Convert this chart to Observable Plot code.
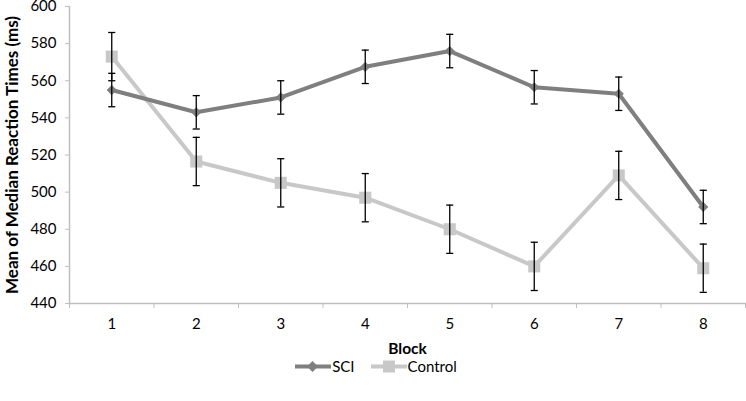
<!DOCTYPE html>
<html>
<head>
<meta charset="utf-8">
<script src="https://cdn.jsdelivr.net/npm/d3@7"></script>
<script src="https://cdn.jsdelivr.net/npm/@observablehq/plot@0.6"></script>
<style>
  html, body { margin: 0; padding: 0; background: #fff; }
  #chart { width: 746px; font-family: Lato, "Open Sans", sans-serif; }
  #chart svg text { font-family: Lato, "Open Sans", sans-serif; }
  [aria-label="x-axis label"] text { font-weight: bold; }
  [aria-label="y-axis label"] text { font-weight: bold; }
  .legend { display: flex; justify-content: center; align-items: center; height: 22px; font-size: 15px; color: #000; margin-left: 6px; }
  .legend .item { display: flex; align-items: center; margin: 0 8px; }
  .legend svg { margin-right: 1px; }
</style>
</head>
<body>
<div id="chart"></div>
<script>
const blocks = [1, 2, 3, 4, 5, 6, 7, 8];
const sciMeans = [555, 543, 551, 567.5, 576, 556.5, 553, 492];
const sciErr = [9, 9, 9, 9, 9, 9, 9, 9];
const controlMeans = [573, 516.5, 505, 497, 480, 460, 509, 459];
const controlErr = [13, 13, 13, 13, 13, 13, 13, 13];
const yTicks = [440, 460, 480, 500, 520, 540, 560, 580, 600];
const seriesNames = ["SCI", "Control"];
const colors = {SCI: "#7f7f7f", Control: "#c8c8c8"};

const data = [];
blocks.forEach((b, i) => {
  data.push({block: b, series: "SCI", mean: sciMeans[i], err: sciErr[i]});
  data.push({block: b, series: "Control", mean: controlMeans[i], err: controlErr[i]});
});
const sciData = data.filter(d => d.series === "SCI");
const ctrlData = data.filter(d => d.series === "Control");
const boundaries = blocks.map(b => b - 0.5).concat([blocks[blocks.length - 1] + 0.5]);
const capHalf = 0.042;

const plot = Plot.plot({
  width: 746,
  height: 355,
  marginTop: 6,
  marginBottom: 52,
  marginLeft: 69,
  marginRight: 1,
  style: {color: "#000", background: "#fff", overflow: "visible"},
  x: {domain: [boundaries[0], boundaries[boundaries.length - 1]], label: null},
  y: {domain: [yTicks[0], yTicks[yTicks.length - 1]], label: null},
  marks: [
    Plot.frame({anchor: "left", stroke: "#bfbfbf", strokeWidth: 1.5}),
    Plot.frame({anchor: "bottom", stroke: "#bfbfbf", strokeWidth: 1.5}),
    Plot.axisY({ticks: yTicks, tickSize: 4, tickPadding: 9, stroke: "#bfbfbf", fill: "#000", fontSize: 15, label: null}),
    Plot.axisY({ticks: [], label: "Mean of Median Reaction Times (ms)", labelAnchor: "center", labelOffset: 64, labelArrow: "none", fontSize: 17, fill: "#000"}),
    Plot.axisX({ticks: boundaries, tickSize: 5, tickFormat: () => "", stroke: "#bfbfbf", label: null}),
    Plot.axisX({ticks: blocks, tickSize: 0, tickPadding: 15, fill: "#000", fontSize: 15, label: null}),
    Plot.axisX({ticks: [], label: "Block", labelAnchor: "center", labelOffset: 50, labelArrow: "none", fontSize: 15.5, fill: "#000"}),
    Plot.line(ctrlData, {x: "block", y: "mean", stroke: colors.Control, strokeWidth: 4}),
    Plot.line(sciData, {x: "block", y: "mean", stroke: colors.SCI, strokeWidth: 4}),
    Plot.dot(sciData, {x: "block", y: "mean", symbol: "diamond2", fill: colors.SCI, r: 4.6, stroke: "none"}),
    Plot.dot(ctrlData, {x: "block", y: "mean", symbol: "square", fill: colors.Control, r: 6.8, stroke: "none"}),
    Plot.ruleX(data, {x: "block", y1: d => d.mean - d.err, y2: d => d.mean + d.err, stroke: "#000", strokeWidth: 1.3}),
    Plot.link(data, {x1: d => d.block - capHalf, x2: d => d.block + capHalf, y1: d => d.mean + d.err, y2: d => d.mean + d.err, stroke: "#000", strokeWidth: 1.3}),
    Plot.link(data, {x1: d => d.block - capHalf, x2: d => d.block + capHalf, y1: d => d.mean - d.err, y2: d => d.mean - d.err, stroke: "#000", strokeWidth: 1.3})
  ]
});
const chart = document.getElementById("chart");
chart.appendChild(plot);

const legend = document.createElement("div");
legend.className = "legend";
seriesNames.forEach(name => {
  const item = document.createElement("span");
  item.className = "item";
  const sym = name === "SCI"
    ? `<path d="M17.5 2 L23 7.5 L17.5 13 L12 7.5 Z" fill="${colors[name]}"/>`
    : `<rect x="12" y="1.5" width="12" height="12" fill="${colors[name]}"/>`;
  item.innerHTML = `<svg width="36" height="15"><line x1="0" y1="7.5" x2="36" y2="7.5" stroke="${colors[name]}" stroke-width="4"/>${sym}</svg><span>${name}</span>`;
  legend.appendChild(item);
});
chart.appendChild(legend);
</script>
</body>
</html>
